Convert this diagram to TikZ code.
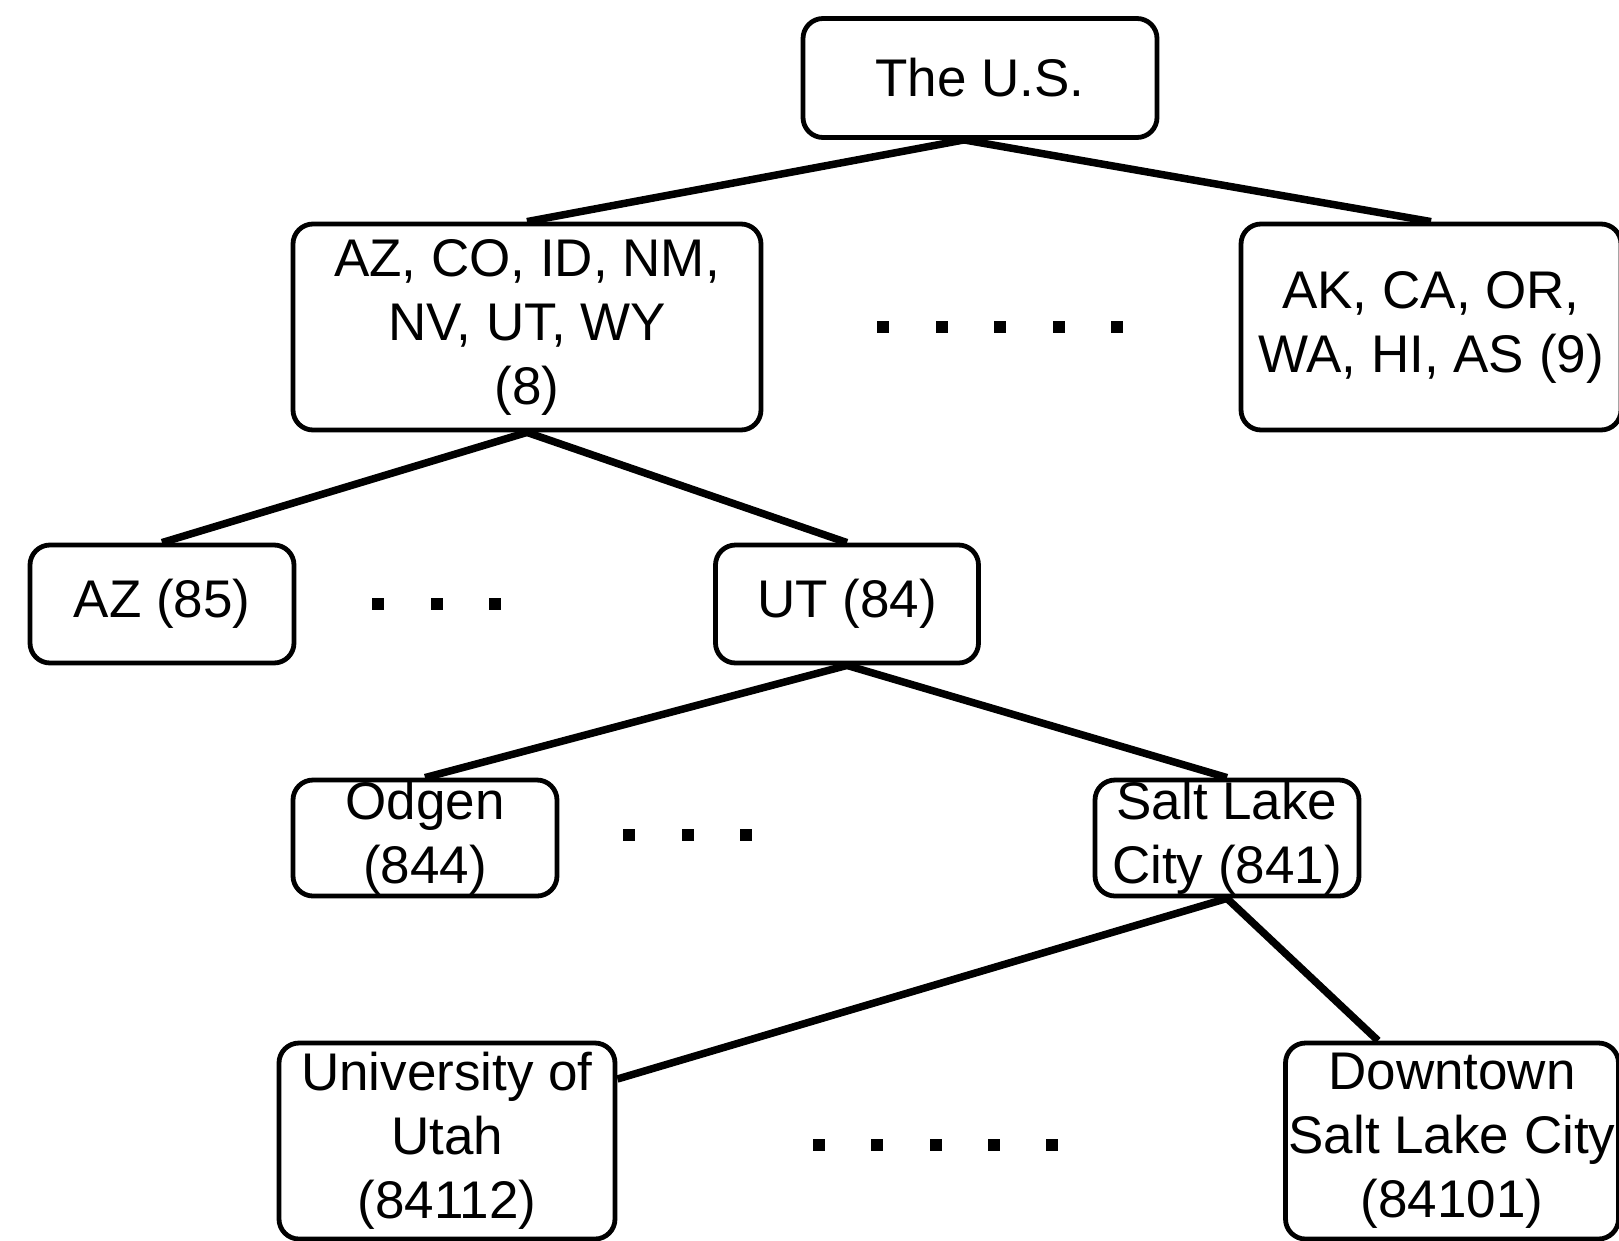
\documentclass[tikz,border=0pt]{standalone}
\usepackage{fontspec}
\setmainfont{Liberation Sans}
\begin{document}
\begin{tikzpicture}[x=1pt,y=-1pt,
    region/.style={draw, line width=4.8pt, rounded corners=20pt, align=center,
        inner sep=0pt, font=\fontsize{53}{64}\selectfont},
    link/.style={line width=7.5pt}]
    \useasboundingbox (0,0) rectangle (1619,1240);

    % Regions
    \node[region, minimum width=354pt, minimum height=119pt] (us) at (980,78) {The U.S.};
    \node[region, minimum width=468pt, minimum height=206pt] (west) at (527,327) {AZ, CO, ID, NM,\\NV, UT, WY\\(8)};
    \node[region, minimum width=380pt, minimum height=206pt] (pacific) at (1431,327) {AK, CA, OR,\\WA, HI, AS (9)};
    \node[region, minimum width=264pt, minimum height=118pt] (az) at (162,604) {AZ (85)};
    \node[region, minimum width=263pt, minimum height=118pt] (ut) at (847,604) {UT (84)};
    \node[region, minimum width=264pt, minimum height=116pt] (ogden) at (425,838) {Odgen\\(844)};
    \node[region, minimum width=264pt, minimum height=116pt] (slc) at (1227,838) {Salt Lake\\City (841)};
    \node[region, minimum width=336pt, minimum height=196pt] (uofu) at (447,1141) {University of\\Utah\\(84112)};
    \node[region, minimum width=333pt, minimum height=196pt] (downtown) at (1452,1141) {Downtown\\Salt Lake City\\(84101)};

    % Links
    \draw[link] ([xshift=-16pt]us.south) -- (west.north);
    \draw[link] ([xshift=-16pt]us.south) -- (pacific.north);
    \draw[link] (west.south) -- (az.north);
    \draw[link] (west.south) -- (ut.north);
    \draw[link] (ut.south) -- (ogden.north);
    \draw[link] (ut.south) -- (slc.north);
    \draw[link] (slc.south) -- ([yshift=62pt]uofu.east);
    \draw[link] (slc.south) -- ([xshift=-74pt]downtown.north);

    % Dots
    \foreach \i in {0,...,4} \fill ({883+58.5*\i-6},321) rectangle +(12,12);
    \foreach \i in {0,...,2} \fill ({378+58.5*\i-6},598) rectangle +(12,12);
    \foreach \i in {0,...,2} \fill ({629+58.5*\i-6},829) rectangle +(12,12);
    \foreach \i in {0,...,4} \fill ({819+58.3*\i-6},1139) rectangle +(12,12);
\end{tikzpicture}
\end{document}
